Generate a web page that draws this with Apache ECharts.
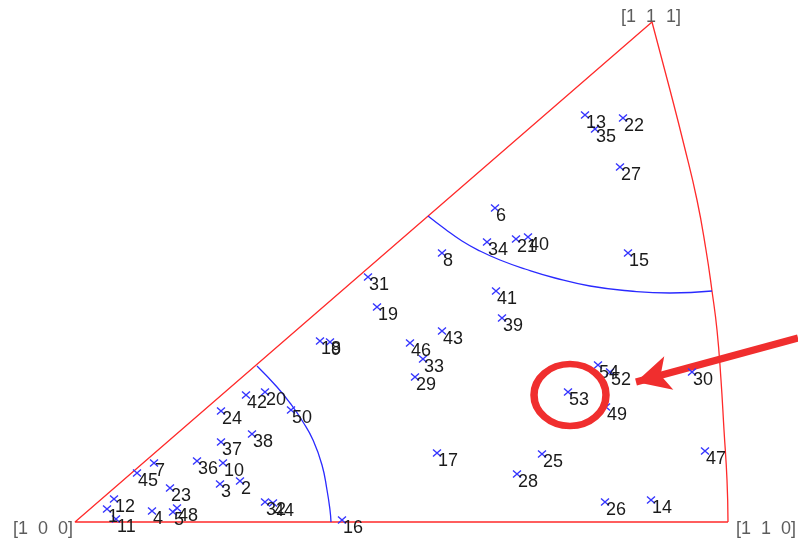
<!DOCTYPE html>
<html>
<head>
<meta charset="utf-8">
<script src="https://cdn.jsdelivr.net/npm/echarts@6/dist/echarts.min.js"></script>
<style>
  html, body { margin: 0; padding: 0; background: #fff; }
  #chart { width: 798px; height: 544px; }
</style>
</head>
<body>
<div id="chart"></div>
<script>
// grain ids and their projected positions (plot units)
const grainIds = [1, 2, 3, 4, 5, 6, 7, 8, 9, 10, 11, 12, 13, 14, 15, 16, 17, 18, 19, 20,
  21, 22, 23, 24, 25, 26, 27, 28, 29, 30, 31, 32, 33, 34, 35, 36, 37, 38, 39, 40,
  41, 42, 43, 44, 45, 46, 47, 48, 49, 50, 52, 53, 54];
const grainPos = [
  [107, 509], [240, 481], [220, 484], [152, 511], [173, 512], [495, 208], [154, 463],
  [442, 253], [330, 342], [223, 463], [116, 519], [114, 499], [585, 115], [651, 500],
  [628, 253], [342, 520], [437, 453], [320, 341], [377, 307], [265, 392], [516, 239],
  [623, 118], [170, 488], [221, 411], [542, 454], [605, 502], [620, 167], [517, 474],
  [415, 377], [692, 372], [368, 277], [265, 502], [423, 359], [487, 242], [595, 129],
  [197, 461], [221, 442], [252, 434], [502, 318], [528, 237], [496, 291], [246, 395],
  [442, 331], [273, 503], [137, 473], [410, 343], [705, 451], [177, 508], [606, 407],
  [291, 410], [610, 372], [568, 392], [598, 365]
];

// standard triangle outline
const triangleEdges = [[652, 22], [75, 522], [728, 522]];
const outerArc = [[652, 22], [670, 90], [684, 145], [697, 200], [706, 250], [712, 291],
  [717, 330], [721, 380], [724, 430], [727, 480], [728, 522]];
const upperArc = [[428, 216], [445, 229], [462, 241], [480, 251], [500, 260], [525, 269],
  [555, 278], [590, 286], [630, 291], [670, 293], [712, 291]];
const lowerArc = [[257, 366], [277, 387], [290, 403], [303, 422], [313, 440], [322, 465],
  [327, 490], [330, 510], [331, 522]];

const cornerNames = ['[1  0  0]', '[1  1  1]', '[1  1  0]'];
const cornerPos = [[75, 522], [652, 22], [728, 522]];
const cornerShift = [[-32, 7], [-1, -5], [38, 7]];

// highlight annotation
const highlightCenter = [570, 395];
const arrowFrom = [798, 338];
const arrowTo = [636, 382];

const chart = echarts.init(document.getElementById('chart'));

const labelFont = {
  fontFamily: 'Liberation Sans, Arial, sans-serif',
  fontSize: 18,
  color: '#1a1a1a'
};

chart.setOption({
  animation: false,
  grid: { left: 0, right: 0, top: 0, bottom: 0 },
  xAxis: { type: 'value', min: 0, max: 798, show: false },
  yAxis: { type: 'value', min: 0, max: 544, inverse: true, show: false },
  series: [
    {
      type: 'line',
      data: triangleEdges,
      symbol: 'none',
      lineStyle: { color: '#ff2a2a', width: 1.3 }
    },
    {
      type: 'line',
      data: outerArc,
      smooth: true,
      symbol: 'none',
      lineStyle: { color: '#ff2a2a', width: 1.3 }
    },
    {
      type: 'line',
      data: upperArc,
      smooth: true,
      symbol: 'none',
      lineStyle: { color: '#2a2aff', width: 1.3 }
    },
    {
      type: 'line',
      data: lowerArc,
      smooth: true,
      symbol: 'none',
      lineStyle: { color: '#2a2aff', width: 1.3 }
    },
    {
      type: 'scatter',
      data: grainPos.map((p, i) => ({ value: p, name: String(grainIds[i]) })),
      symbol: 'path://M0,0L8,7M8,0L0,7',
      symbolSize: [8, 7],
      itemStyle: { color: 'transparent', borderColor: '#3535ff', borderWidth: 1.2, opacity: 1 },
      label: {
        show: true,
        formatter: '{b}',
        position: 'inside',
        align: 'left',
        verticalAlign: 'middle',
        offset: [1, 8],
        ...labelFont
      },
      z: 5
    },
    {
      type: 'scatter',
      data: cornerPos.map((p, i) => ({
        value: p,
        name: cornerNames[i],
        label: { offset: cornerShift[i] }
      })),
      symbolSize: 0,
      label: {
        show: true,
        formatter: '{b}',
        position: 'inside',
        align: 'center',
        verticalAlign: 'middle',
        ...labelFont,
        color: '#333'
      }
    },
    {
      type: 'scatter',
      data: [highlightCenter],
      symbol: 'circle',
      symbolSize: [72, 62],
      itemStyle: { color: 'transparent', borderColor: '#f02e2e', borderWidth: 7, opacity: 1 },
      silent: true,
      z: 6,
      markLine: {
        silent: true,
        symbol: ['none', 'arrow'],
        symbolSize: [26, 34],
        label: { show: false },
        lineStyle: { color: '#f02e2e', width: 7, type: 'solid', opacity: 1 },
        data: [[{ coord: arrowFrom }, { coord: arrowTo }]]
      }
    }
  ]
});
</script>
</body>
</html>
